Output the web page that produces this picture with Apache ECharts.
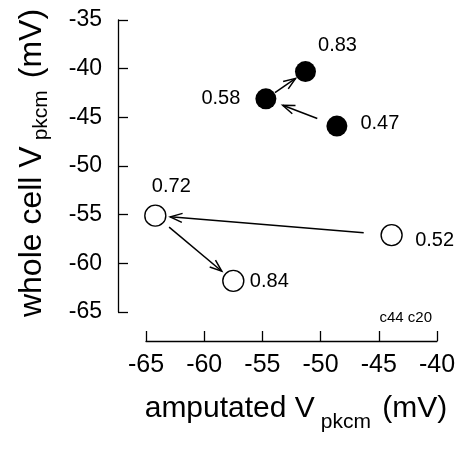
<!DOCTYPE html>
<html>
<head>
<meta charset="utf-8">
<script src="https://cdn.jsdelivr.net/npm/echarts@6/dist/echarts.min.js"></script>
<style>
html,body{margin:0;padding:0;background:#fff;}
#chart{width:459px;height:453px;}
</style>
</head>
<body>
<div id="chart"></div>
<script>
// ---- data ----
const xTicks = [-65, -60, -55, -50, -45, -40];
const yTicks = [-65, -60, -55, -50, -45, -40, -35];
const filledX = [-51.3, -54.7, -48.6];
const filledY = [-40.3, -43.1, -45.9];
const filledLabels = ['0.83', '0.58', '0.47'];
const openX = [-64.2, -43.9, -57.5];
const openY = [-55.1, -57.1, -61.8];
const openLabels = ['0.72', '0.52', '0.84'];
// arrows: [group, fromIndex, toIndex]
const arrowLinks = [
  ['filled', 1, 0],
  ['filled', 2, 1],
  ['open', 1, 0],
  ['open', 0, 2]
];
const noteText = 'c44 c20';

// ---- layout / style (not data) ----
const filledLabelOffsets = [[32, -26], [-45, 0], [43, -3]];
const openLabelOffsets = [[16, -29], [43, 5], [36, 1]];
const arrowGaps = [[11, 12], [21, 18], [28, 15], [18, 15]]; // px gaps at start/end
const FONT = '"Liberation Sans", Arial, Helvetica, sans-serif';

const groups = {
  filled: { x: filledX, y: filledY },
  open: { x: openX, y: openY }
};
const arrowData = arrowLinks.map((a, i) => {
  const g = groups[a[0]];
  return [g.x[a[1]], g.y[a[1]], g.x[a[2]], g.y[a[2]], i];
});

function pts(xs, ys, labels, offsets) {
  return xs.map((x, i) => ({
    value: [x, ys[i]],
    name: labels[i],
    label: { offset: offsets[i] }
  }));
}

const chart = echarts.init(document.getElementById('chart'), null, { renderer: 'canvas' });
const labelStyle = {
  show: true, position: 'inside', formatter: '{b}',
  fontSize: 20, color: '#000', fontFamily: FONT
};
chart.setOption({
  animation: false,
  backgroundColor: '#fff',
  grid: { left: 146, right: 22, top: 20, bottom: 141 },
  xAxis: {
    type: 'value', min: xTicks[0], max: xTicks[xTicks.length - 1], interval: 5,
    offset: 29,
    axisLine: { show: true, onZero: false, lineStyle: { color: '#000', width: 1.3 } },
    axisTick: { show: true, inside: true, length: 10, lineStyle: { color: '#000', width: 1.3 } },
    axisLabel: { fontSize: 25, color: '#000', margin: 12, fontFamily: FONT,
      formatter: v => String(v) },
    splitLine: { show: false }
  },
  yAxis: {
    type: 'value', min: yTicks[0], max: yTicks[yTicks.length - 1], interval: 5,
    offset: 28,
    axisLine: { show: true, onZero: false, lineStyle: { color: '#000', width: 1.3 } },
    axisTick: { show: true, inside: true, length: 10, lineStyle: { color: '#000', width: 1.3 } },
    axisLabel: { fontSize: 23, color: '#000', margin: 16, fontFamily: FONT,
      formatter: v => String(v) },
    splitLine: { show: false }
  },
  series: [
    {
      type: 'custom',
      renderItem: function (params, api) {
        const p0 = api.coord([api.value(0), api.value(1)]);
        const p1 = api.coord([api.value(2), api.value(3)]);
        const gap = arrowGaps[api.value(4)];
        const dx = p1[0] - p0[0], dy = p1[1] - p0[1];
        const L = Math.sqrt(dx * dx + dy * dy);
        const ux = dx / L, uy = dy / L;
        const s = [p0[0] + ux * gap[0], p0[1] + uy * gap[0]];
        const e = [p1[0] - ux * gap[1], p1[1] - uy * gap[1]];
        const hl = 12, hw = 4.5;
        const bx = e[0] - ux * hl, by = e[1] - uy * hl;
        const h1 = [bx - uy * hw, by + ux * hw];
        const h2 = [bx + uy * hw, by - ux * hw];
        const st = { stroke: '#000', lineWidth: 1.5, fill: null };
        return {
          type: 'group',
          children: [
            { type: 'line', shape: { x1: s[0], y1: s[1], x2: e[0], y2: e[1] }, style: st },
            { type: 'polyline', shape: { points: [h1, e, h2] }, style: st }
          ]
        };
      },
      encode: { x: [0, 2], y: [1, 3] },
      data: arrowData,
      z: 1
    },
    {
      type: 'scatter',
      symbol: 'circle', symbolSize: 21,
      itemStyle: { color: '#000', opacity: 1 },
      label: labelStyle,
      data: pts(filledX, filledY, filledLabels, filledLabelOffsets),
      z: 3
    },
    {
      type: 'scatter',
      symbol: 'circle', symbolSize: 21,
      itemStyle: { color: '#fff', borderColor: '#000', borderWidth: 1.4, opacity: 1 },
      label: labelStyle,
      data: pts(openX, openY, openLabels, openLabelOffsets),
      z: 3
    }
  ],
  graphic: [
    {
      type: 'text', x: 296, y: 409,
      style: {
        text: '{a|amputated V}{s|pkcm}{a| (mV)}',
        align: 'center', verticalAlign: 'middle',
        rich: {
          a: { fontSize: 30, fontFamily: FONT, fill: '#000' },
          s: { fontSize: 21, fontFamily: FONT, fill: '#000', padding: [26, 3, 0, 6] }
        }
      }
    },
    {
      type: 'text', x: 32, y: 163, rotation: Math.PI / 2,
      style: {
        text: '{a|whole cell V}{s|pkcm}{a| (mV)}',
        align: 'center', verticalAlign: 'middle',
        rich: {
          a: { fontSize: 32, fontFamily: FONT, fill: '#000' },
          s: { fontSize: 21, fontFamily: FONT, fill: '#000', padding: [18, 3, 0, 6] }
        }
      }
    },
    {
      type: 'text', x: 432, y: 318,
      style: { text: noteText, fontSize: 15, fontFamily: FONT, fill: '#000',
        align: 'right', verticalAlign: 'middle' }
    }
  ]
});
</script>
</body>
</html>
